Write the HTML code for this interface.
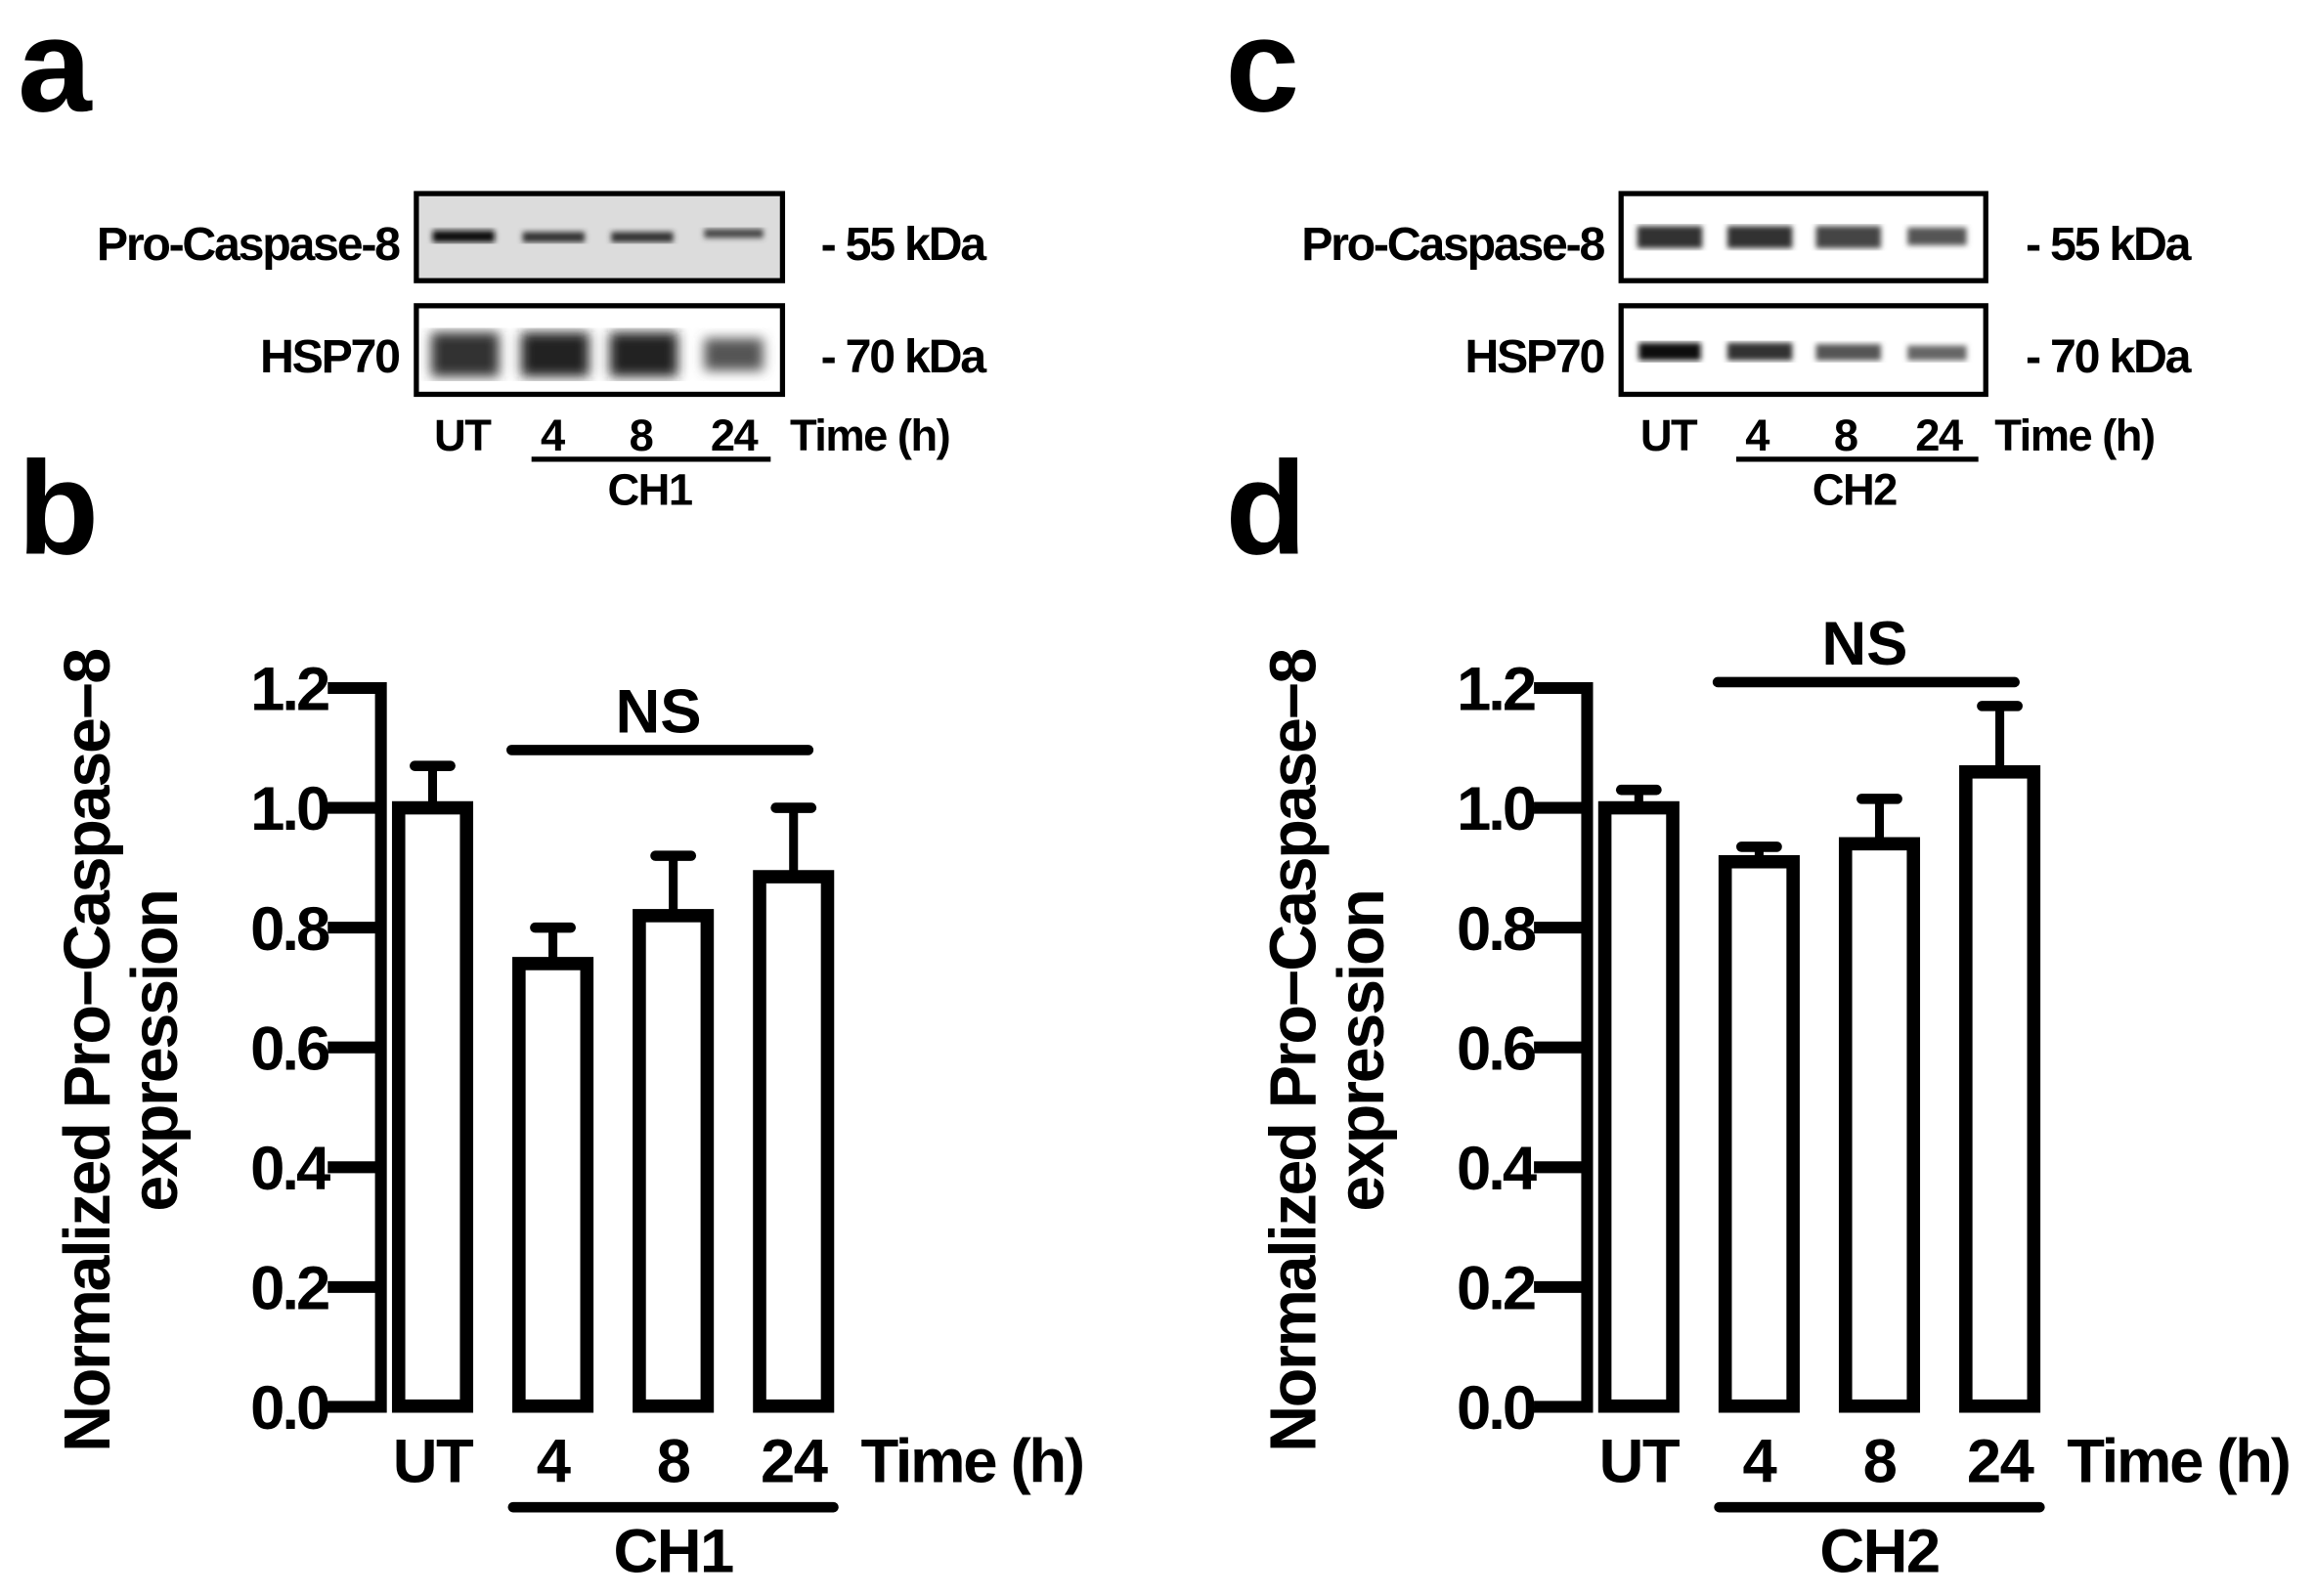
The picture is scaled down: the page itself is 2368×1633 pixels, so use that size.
<!DOCTYPE html>
<html><head><meta charset="utf-8"><style>
html,body{margin:0;padding:0;background:#fff}
svg{display:block}
text{font-family:"Liberation Sans",Arial,sans-serif;font-weight:bold;fill:#000}
</style></head><body>
<svg id="fig" width="2368" height="1633" viewBox="0 0 1568 1081" xmlns="http://www.w3.org/2000/svg">
<defs>
<filter id="blur2"><feGaussianBlur stdDeviation="2"/></filter>
<filter id="blur4"><feGaussianBlur stdDeviation="4"/></filter>
</defs>
<text x="12" y="75" font-size="90">a</text>
<text x="12" y="375" font-size="90">b</text>
<text x="830" y="75" font-size="90">c</text>
<text x="830" y="375" font-size="90">d</text>

<g>
<rect x="282" y="131" width="248" height="59" fill="#dcdcdc" stroke="#000" stroke-width="3.5"/>
<g filter="url(#blur2)">
<rect x="293" y="156" width="42" height="8" fill="#111"/>
<rect x="354" y="157" width="42" height="7" fill="#333"/>
<rect x="414" y="157" width="42" height="7" fill="#333"/>
<rect x="477" y="155" width="40" height="6" fill="#444"/>
</g>
<rect x="282" y="207" width="248" height="60" fill="#fff" stroke="#000" stroke-width="3.5"/>
<g filter="url(#blur4)">
<rect x="292" y="225" width="46" height="30" fill="#333"/>
<rect x="353" y="225" width="46" height="30" fill="#222"/>
<rect x="413" y="225" width="46" height="30" fill="#222"/>
<rect x="477" y="229" width="40" height="22" fill="#555"/>
</g>
<text x="270" y="176" font-size="32" text-anchor="end" letter-spacing="-1.5">Pro-Caspase-8</text>
<text x="270" y="252" font-size="32" text-anchor="end" letter-spacing="-1.5">HSP70</text>
<text x="556" y="176" font-size="32" letter-spacing="-1.5">- 55 kDa</text>
<text x="556" y="252" font-size="32" letter-spacing="-1.5">- 70 kDa</text>
<g font-size="30" text-anchor="middle" letter-spacing="-1">
<text x="313" y="305">UT</text>
<text x="374" y="305">4</text>
<text x="434" y="305">8</text>
<text x="497" y="305">24</text>
</g>
<text x="535" y="305" font-size="30" letter-spacing="-1">Time (h)</text>
<line x1="360" y1="311" x2="522" y2="311" stroke="#000" stroke-width="3.5"/>
<text x="440" y="342" font-size="30" text-anchor="middle" letter-spacing="-1">CH1</text>
</g>

<g>
<rect x="1098" y="131" width="247" height="59" fill="#fff" stroke="#000" stroke-width="3.5"/>
<g filter="url(#blur2)">
<rect x="1109" y="153" width="44" height="15" fill="#333"/>
<rect x="1170" y="153" width="44" height="15" fill="#333"/>
<rect x="1230" y="153" width="44" height="15" fill="#444"/>
<rect x="1292" y="154" width="40" height="12" fill="#555"/>
</g>
<rect x="1098" y="207" width="247" height="60" fill="#fff" stroke="#000" stroke-width="3.5"/>
<g filter="url(#blur2)">
<rect x="1110" y="232" width="42" height="12" fill="#111"/>
<rect x="1170" y="232" width="44" height="12" fill="#333"/>
<rect x="1230" y="233" width="44" height="11" fill="#555"/>
<rect x="1292" y="234" width="40" height="10" fill="#666"/>
</g>
<text x="1086" y="176" font-size="32" text-anchor="end" letter-spacing="-1.5">Pro-Caspase-8</text>
<text x="1086" y="252" font-size="32" text-anchor="end" letter-spacing="-1.5">HSP70</text>
<text x="1372" y="176" font-size="32" letter-spacing="-1.5">- 55 kDa</text>
<text x="1372" y="252" font-size="32" letter-spacing="-1.5">- 70 kDa</text>
<g font-size="30" text-anchor="middle" letter-spacing="-1">
<text x="1130" y="305">UT</text>
<text x="1190" y="305">4</text>
<text x="1250" y="305">8</text>
<text x="1313" y="305">24</text>
</g>
<text x="1351" y="305" font-size="30" letter-spacing="-1">Time (h)</text>
<line x1="1176" y1="311" x2="1340" y2="311" stroke="#000" stroke-width="3.5"/>
<text x="1256" y="342" font-size="30" text-anchor="middle" letter-spacing="-1">CH2</text>
</g>

<g id="chartB"></g>
<g id="chartD"></g>
</svg>
<script>
const categories = ["UT", "4", "8", "24"];
const tickLabels = ["0.0", "0.2", "0.4", "0.6", "0.8", "1.0", "1.2"];
const tickValues = [0, 0.2, 0.4, 0.6, 0.8, 1.0, 1.2];
const meansB = [1.0, 0.74, 0.82, 0.885];
const errorsB = [0.07, 0.06, 0.10, 0.115];
const meansD = [1.0, 0.91, 0.94, 1.06];
const errorsD = [0.03, 0.025, 0.075, 0.11];

const NS = "http://www.w3.org/2000/svg";
function mk(parent, tag, attrs) {
  const e = document.createElementNS(NS, tag);
  for (const k in attrs) e.setAttribute(k, attrs[k]);
  parent.appendChild(e);
  return e;
}
function drawChart(g, ox, means, errors, group, nsY) {
  const y0 = 953, yTop = 466, vmax = 1.2;
  const yScale = v => y0 - (v / vmax) * (y0 - yTop);
  const xScale = i => ox + 35 + i * 81.5;
  const barW = 46, sw = 9;
  const ax = mk(g, "line", {x1: ox, y1: yTop - 4, x2: ox, y2: y0 + 4, stroke: "#000", "stroke-width": 8});
  
  
  tickValues.forEach((v, i) => {
    const t = mk(g, "line", {x1: ox - 36, y1: yScale(v), x2: ox, y2: yScale(v), stroke: "#000", "stroke-width": 8});
    
    
    const lb = mk(g, "text", {x: ox - 36, y: yScale(v) + 15, "font-size": 42, "text-anchor": "end", "letter-spacing": "-2"});
    lb.textContent = tickLabels[i];
    
    
  });
  means.forEach((m, i) => {
    const cx = xScale(i), top = yScale(m), et = yScale(m + errors[i]);
    const el = mk(g, "line", {x1: cx, y1: top, x2: cx, y2: et, stroke: "#000", "stroke-width": 6});
    
    
    const cap = mk(g, "line", {x1: cx - 12, y1: et, x2: cx + 12, y2: et, stroke: "#000", "stroke-width": 7, "stroke-linecap": "round"});
    
    
    const r = mk(g, "rect", {x: cx - barW / 2, y: top, width: barW, height: y0 - top - sw / 2 + 4, fill: "#fff", stroke: "#000", "stroke-width": sw});
    
    
    const xl = mk(g, "text", {x: cx, y: 1004, "font-size": 42, "text-anchor": "middle", "letter-spacing": "-1"});
    xl.textContent = categories[i];
    
    
  });
  const tl = mk(g, "text", {x: ox + 325, y: 1004, "font-size": 42, "letter-spacing": "-1.5"});
  tl.textContent = "Time (h)";
  
  
  const gl = mk(g, "line", {x1: xScale(1) - 27, y1: 1021, x2: xScale(3) + 27, y2: 1021, stroke: "#000", "stroke-width": 7, "stroke-linecap": "round"});
  
  
  const gt = mk(g, "text", {x: xScale(2), y: 1065, "font-size": 42, "text-anchor": "middle", "letter-spacing": "-1"});
  gt.textContent = group;
  
  
  const nl = mk(g, "line", {x1: xScale(1) - 28, y1: nsY, x2: xScale(3) + 10, y2: nsY, stroke: "#000", "stroke-width": 7, "stroke-linecap": "round"});
  
  
  const nt = mk(g, "text", {x: (xScale(1) + xScale(3)) / 2 - 10, y: nsY - 12, "font-size": 42, "text-anchor": "middle"});
  nt.textContent = "NS";
  
  
  const yt = mk(g, "text", {transform: "translate(" + (ox - 184) + ",712) rotate(-90)", "font-size": 44, "text-anchor": "middle", "letter-spacing": "-1.5"});
  yt.textContent = "Normalized Pro\u2212Caspase\u22128";
  
  
  const yt2 = mk(g, "text", {transform: "translate(" + (ox - 138) + ",712) rotate(-90)", "font-size": 44, "text-anchor": "middle", "letter-spacing": "-1.5"});
  yt2.textContent = "expression";
  
  
}
drawChart(document.getElementById("chartB"), 258, meansB, errorsB, "CH1", 508);
drawChart(document.getElementById("chartD"), 1075, meansD, errorsD, "CH2", 462);
</script>
</body></html>
